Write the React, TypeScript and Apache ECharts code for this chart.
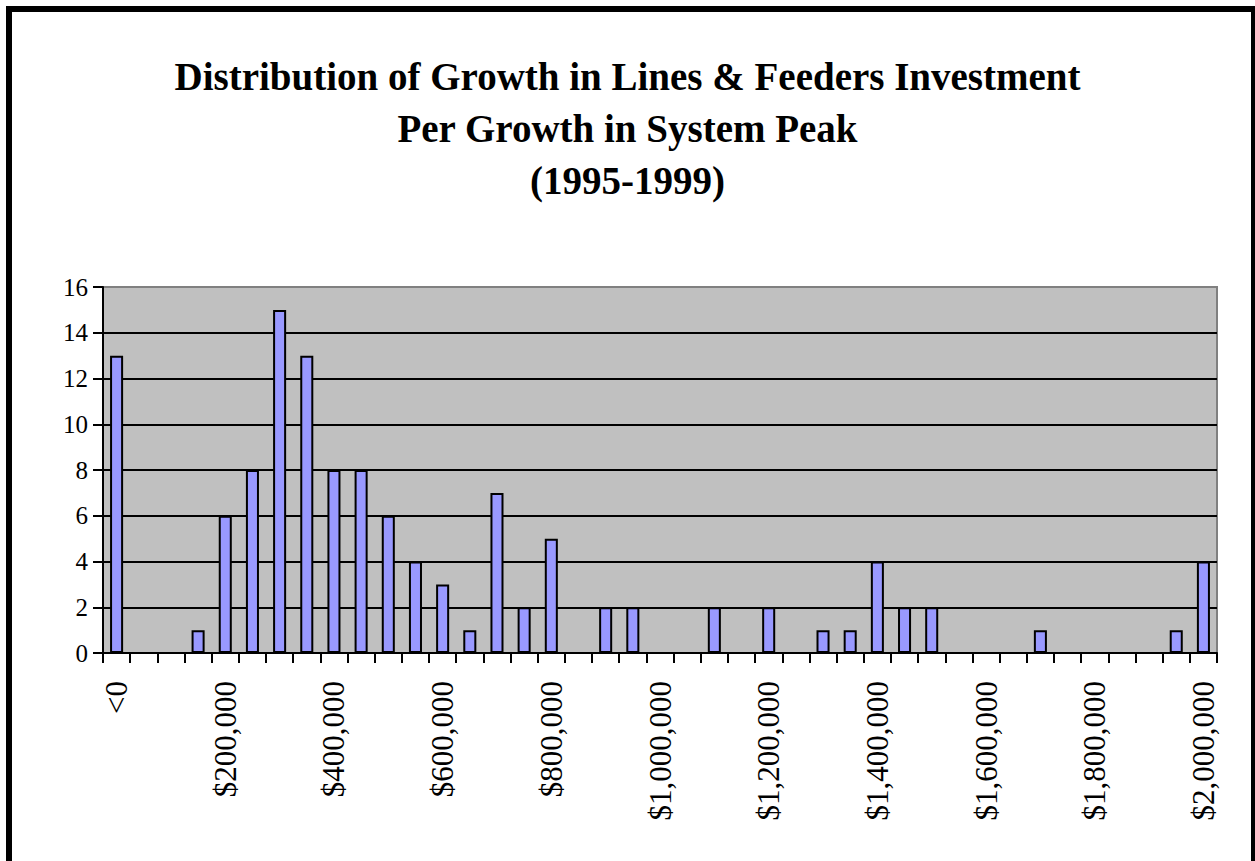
import React, { useEffect, useRef } from "react";
import * as echarts from "echarts";

const titleLines = [
  "Distribution of Growth in Lines & Feeders Investment",
  "Per Growth in System Peak",
  "(1995-1999)",
];

const categories = [
  "<0", "$50,000", "$100,000", "$150,000", "$200,000", "$250,000", "$300,000",
  "$350,000", "$400,000", "$450,000", "$500,000", "$550,000", "$600,000",
  "$650,000", "$700,000", "$750,000", "$800,000", "$850,000", "$900,000",
  "$950,000", "$1,000,000", "$1,050,000", "$1,100,000", "$1,150,000",
  "$1,200,000", "$1,250,000", "$1,300,000", "$1,350,000", "$1,400,000",
  "$1,450,000", "$1,500,000", "$1,550,000", "$1,600,000", "$1,650,000",
  "$1,700,000", "$1,750,000", "$1,800,000", "$1,850,000", "$1,900,000",
  "$1,950,000", "$2,000,000",
];

const counts = [
  13, 0, 0, 1, 6, 8, 15, 13, 8, 8, 6, 4, 3, 1, 7, 2, 5, 0, 2, 2, 0,
  0, 2, 0, 2, 0, 1, 1, 4, 2, 2, 0, 0, 0, 1, 0, 0, 0, 0, 1, 4,
];

const yMin = 0;
const yMax = 16;
const yStep = 2;

const FONT = "Liberation Serif";

export default function App() {
  const ref = useRef<HTMLDivElement>(null);
  useEffect(() => {
    if (!ref.current) return;
    const chart = echarts.init(ref.current, null, { renderer: "svg" });
    chart.setOption({
      animation: false,
      backgroundColor: "#ffffff",
      title: {
        text: titleLines.join("\n"),
        left: "center",
        top: 50,
        padding: 0,
        textStyle: {
          fontFamily: FONT,
          fontWeight: "bold",
          fontSize: 39,
          lineHeight: 52,
          color: "#000",
        },
      },
      graphic: [
        {
          type: "rect",
          shape: { x: 9, y: 9, width: 1245, height: 880 },
          style: { fill: "none", stroke: "#000", lineWidth: 6 },
          silent: true,
          z: 100,
        },
      ],
      grid: {
        left: 103,
        top: 287,
        right: 38,
        bottom: 208,
        show: true,
        backgroundColor: "#C0C0C0",
        borderColor: "#808080",
        borderWidth: 2,
      },
      xAxis: {
        type: "category",
        data: categories,
        boundaryGap: true,
        axisLine: { show: true, lineStyle: { color: "#000", width: 2 } },
        axisTick: {
          show: true,
          interval: 0,
          alignWithLabel: false,
          length: 10,
          lineStyle: { color: "#000", width: 2 },
        },
        axisLabel: {
          interval: 3,
          rotate: 90,
          margin: 28,
          fontFamily: FONT,
          fontSize: 31,
          color: "#000",
        },
        splitLine: { show: false },
      },
      yAxis: {
        type: "value",
        min: yMin,
        max: yMax,
        interval: yStep,
        axisLine: { show: true, lineStyle: { color: "#000", width: 2 } },
        axisTick: { show: true, length: 10, lineStyle: { color: "#000", width: 2 } },
        axisLabel: {
          margin: 15,
          fontFamily: FONT,
          fontSize: 25,
          color: "#000",
        },
        splitLine: {
          show: true,
          showMaxLine: false,
          lineStyle: { color: "#000", width: 2 },
        },
      },
      series: [
        {
          type: "bar",
          data: counts,
          barWidth: "48%",
          itemStyle: { color: "#9999FF", borderColor: "#000", borderWidth: 2 },
        },
      ],
    });
    return () => chart.dispose();
  }, []);
  return (
    <div
      ref={ref}
      style={{ position: "fixed", left: 0, top: 0, width: 1255, height: 861 }}
    />
  );
}
